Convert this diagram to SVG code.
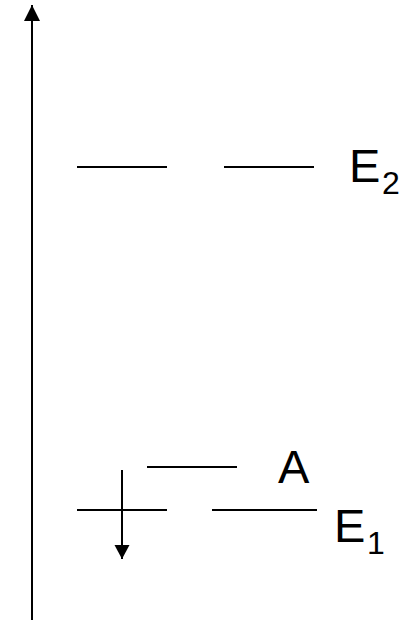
<svg xmlns="http://www.w3.org/2000/svg" width="417" height="621" viewBox="0 0 417 621">
<style>
.ln{stroke:#000;stroke-width:2;fill:none}
.t{font-family:"Liberation Sans",Arial,sans-serif;fill:#000}
.big{font-size:47px}
.sub{font-size:32px}
</style>
<defs>
<marker id="ah" markerWidth="17" markerHeight="17" refX="16" refY="8" orient="auto" markerUnits="userSpaceOnUse">
<path d="M0,0 L16,8 L0,16 Z" fill="#000"/>
</marker>
<marker id="ah2" markerWidth="16" markerHeight="16" refX="14" refY="7.5" orient="auto" markerUnits="userSpaceOnUse">
<path d="M0,0 L14,7.5 L0,15 Z" fill="#000"/>
</marker>
</defs>
<rect width="417" height="621" fill="#fff"/>
<g id="connectors">
<line id="axis" class="ln" x1="32" y1="620" x2="32" y2="5" marker-end="url(#ah)"/>
<line id="down" class="ln" x1="122" y1="470" x2="122" y2="559" marker-end="url(#ah2)"/>
</g>
<g id="E2">
<line class="ln" x1="77" y1="167" x2="167" y2="167"/>
<line class="ln" x1="224" y1="167" x2="314" y2="167"/>
<text class="t big" x="349" y="182">E</text>
<text class="t sub" x="382" y="194">2</text>
</g>
<g id="A">
<line class="ln" x1="147" y1="467" x2="237" y2="467"/>
<text class="t big" x="278" y="483">A</text>
</g>
<g id="E1">
<line class="ln" x1="77" y1="510" x2="167" y2="510"/>
<line class="ln" x1="212" y1="510" x2="317" y2="510"/>
<text class="t big" x="334" y="542">E</text>
<text class="t sub" x="367" y="554">1</text>
</g>
</svg>
